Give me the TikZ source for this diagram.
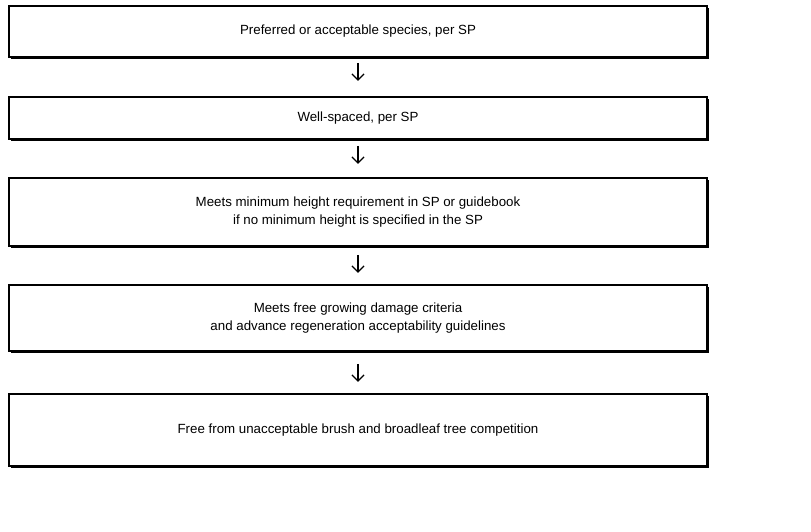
\documentclass[tikz,border=0pt]{standalone}
\usepackage{fontspec}
\setmainfont{Liberation Sans}
\usetikzlibrary{shadows,arrows.meta}
\tikzset{
  stepbox/.style={draw=black, line width=1.5pt, fill=white, minimum width=698pt,
    align=center, inner sep=0pt, font=\fontsize{13.3}{17.5}\selectfont,
    drop shadow={shadow xshift=2pt, shadow yshift=-2pt, fill=black, opacity=1}},
  flowarrow/.style={line width=1.2pt, -{Straight Barb[length=6pt,width=12pt,line width=1.2pt]}}
}
\begin{document}
\begin{tikzpicture}[x=1pt,y=-1pt]
\useasboundingbox (0,0) rectangle (811,531);
\fill[white] (0,0) rectangle (811,531);
\node[stepbox, minimum height=51pt] (b1) at (358,31.5) {Preferred or acceptable species, per SP};
\node[stepbox, minimum height=42pt] (b2) at (358,118) {Well-spaced, per SP};
\node[stepbox, minimum height=68pt] (b3) at (358,212) {Meets minimum height requirement in SP or guidebook\\if no minimum height is specified in the SP};
\node[stepbox, minimum height=66pt] (b4) at (358,318) {Meets free growing damage criteria\\and advance regeneration acceptability guidelines};
\node[stepbox, minimum height=72pt] (b5) at (358,430) {Free from unacceptable brush and broadleaf tree competition};
\draw[flowarrow] ([shift={(0,5)}]b1.south) -- ([shift={(0,23)}]b1.south);
\draw[flowarrow] ([shift={(0,6)}]b2.south) -- ([shift={(0,24)}]b2.south);
\draw[flowarrow] ([shift={(0,8)}]b3.south) -- ([shift={(0,26)}]b3.south);
\draw[flowarrow] ([shift={(0,12)}]b4.south) -- ([shift={(0,30)}]b4.south);
\end{tikzpicture}
\end{document}
